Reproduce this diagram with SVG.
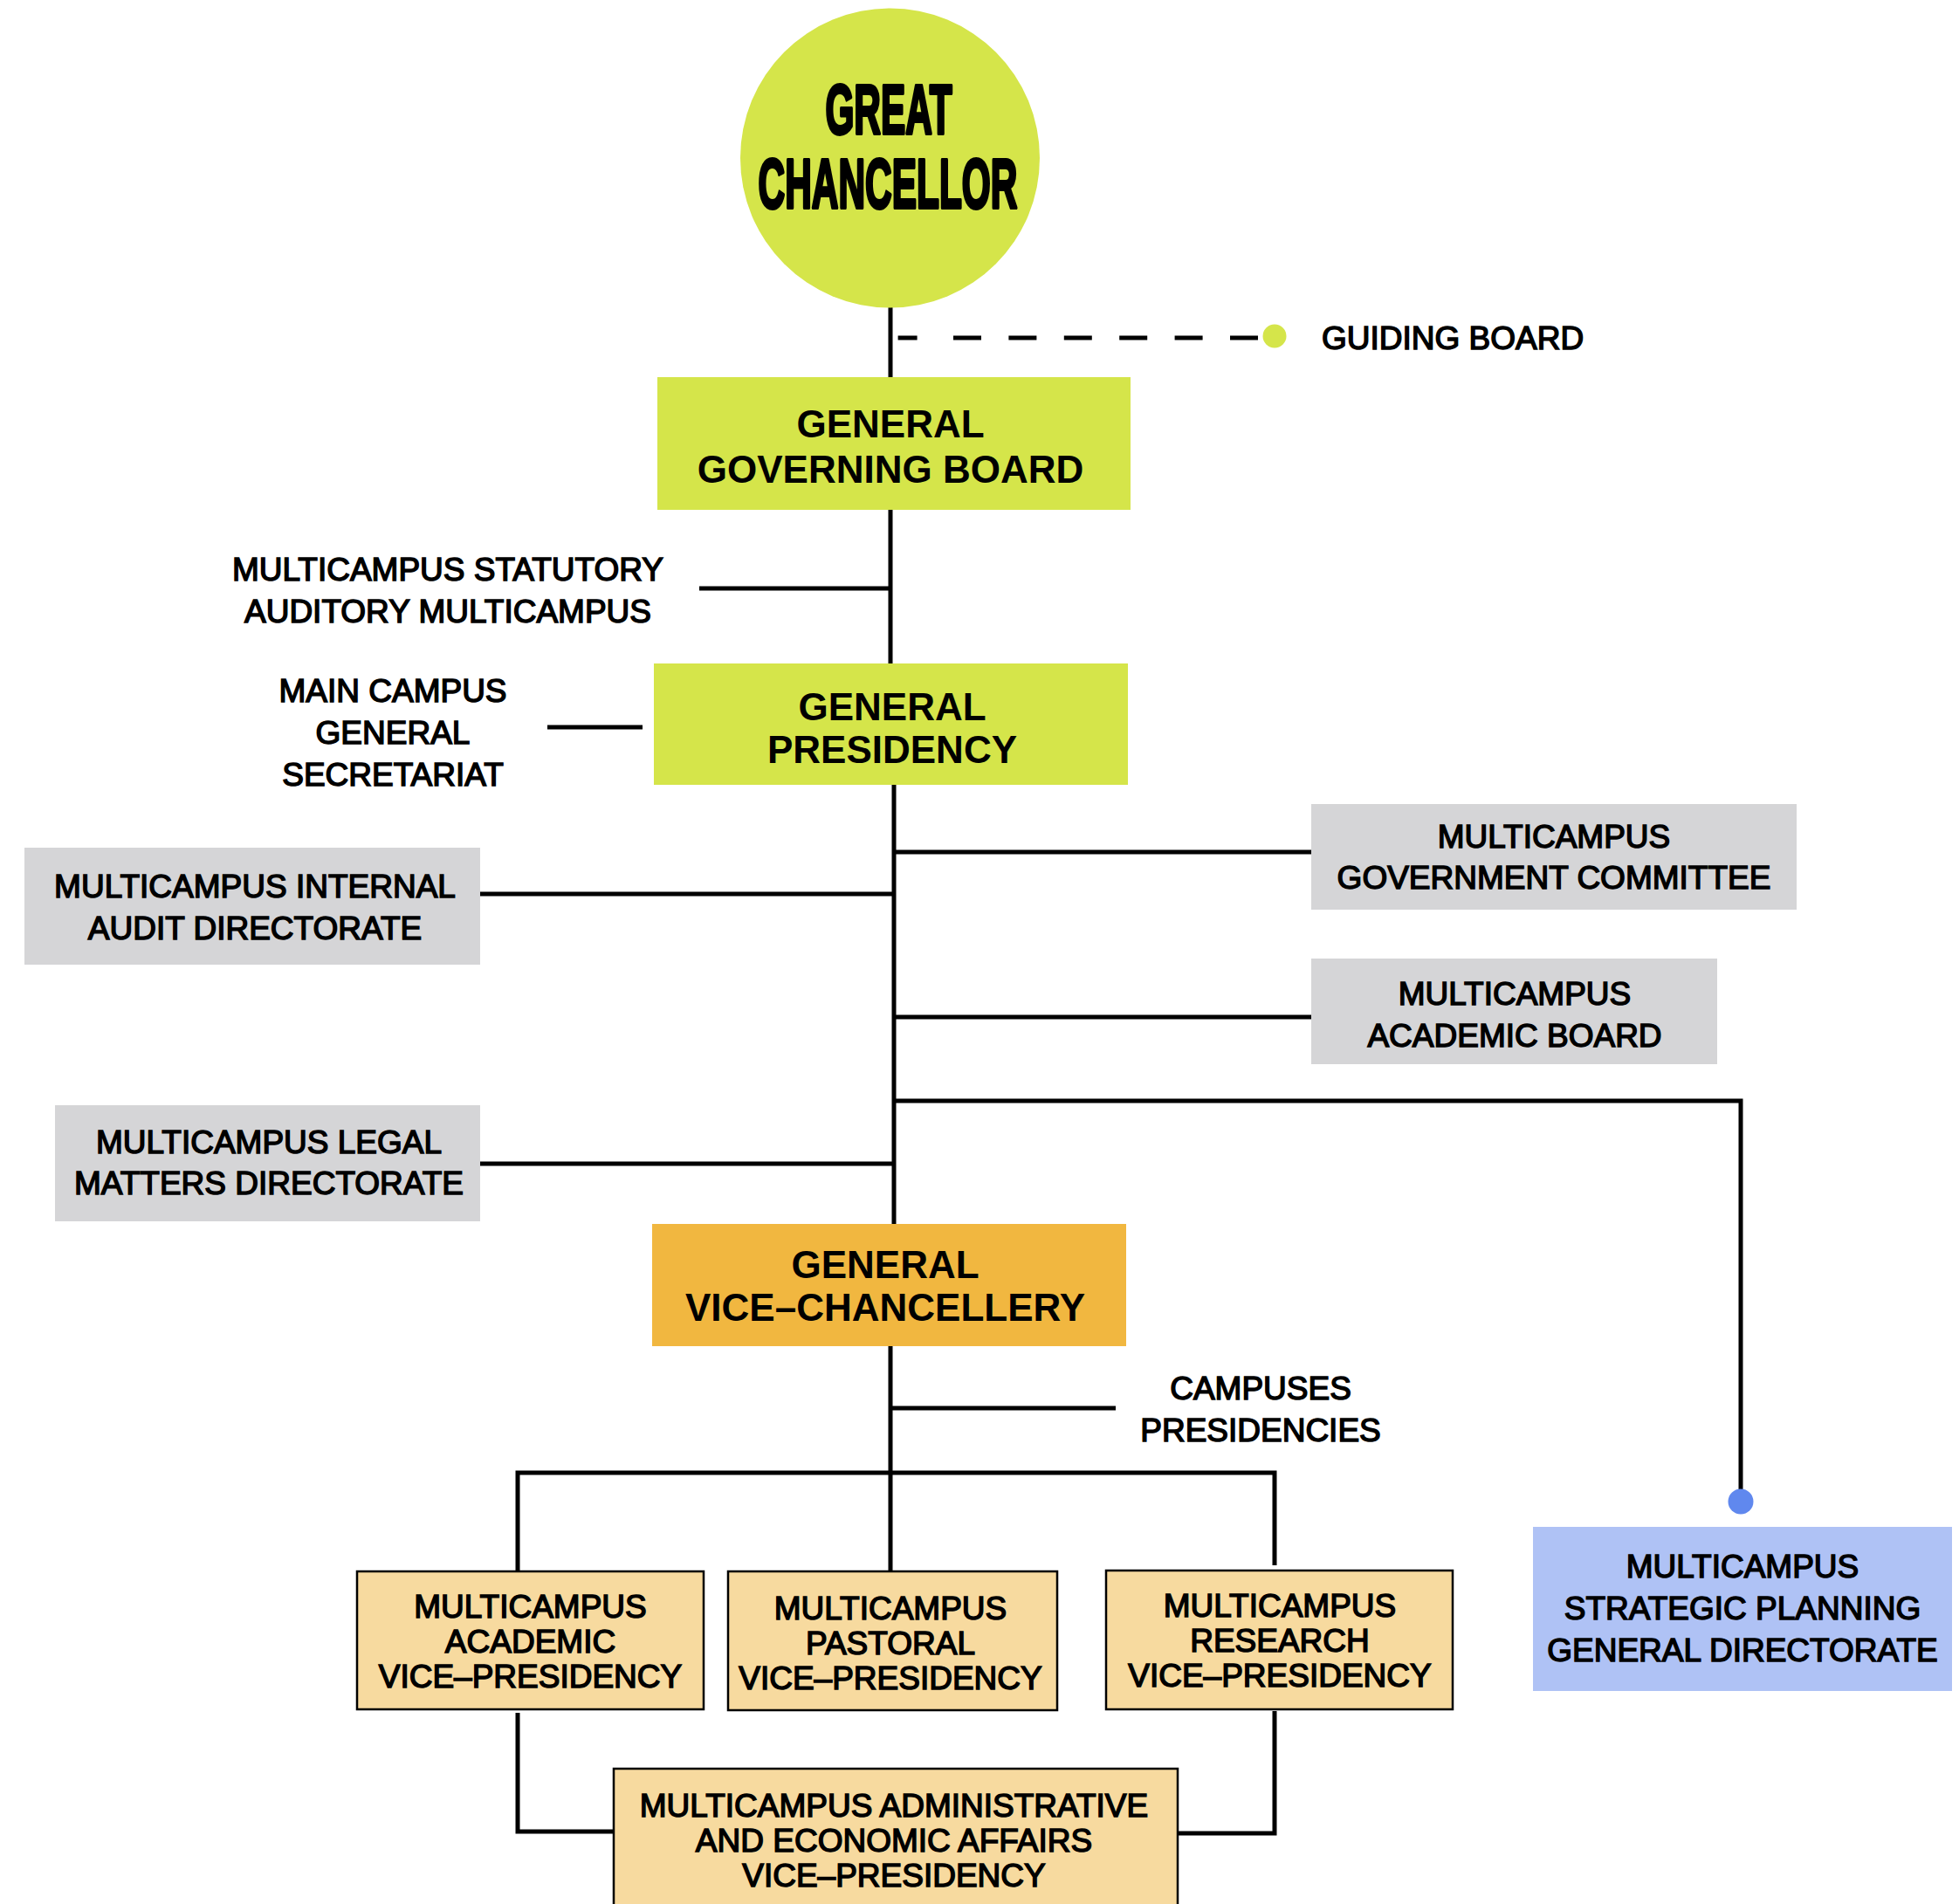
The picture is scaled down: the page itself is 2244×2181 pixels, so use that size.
<svg xmlns="http://www.w3.org/2000/svg" width="2244" height="2181" viewBox="0 0 2244 2181">
<style>
.t{font-family:"Liberation Sans",Arial,sans-serif;font-size:37px;fill:#000;stroke:#000;stroke-width:1.5px;text-anchor:middle}
.b{font-family:"Liberation Sans",Arial,sans-serif;font-size:44px;font-weight:bold;fill:#000;text-anchor:middle}
.gc{font-family:"Liberation Sans",Arial,sans-serif;font-size:80px;font-weight:bold;fill:#000;stroke:#000;stroke-width:4px;stroke-linejoin:round;text-anchor:middle}
.ln{fill:none;stroke:#000;stroke-width:5}
.lime{fill:#D5E54A}
.gray{fill:#D5D5D7}
.vp{fill:#F7DA9F;stroke:#000;stroke-width:2.5}
</style>
<g id="connectors">
<path class="ln" d="M1020 350V434M1020 582V762M1024 897V1404M1020 1540V1800"/>
<path class="ln" d="M801 674H1020M627 833H736M1024 976H1502M550 1024H1024M1024 1165H1502M1024 1261H1994V1708M550 1333H1024M1020 1613H1278"/>
<path class="ln" d="M593 1800V1687H1460V1793"/>
<path class="ln" d="M593 1962V2098H703M1460 1960V2100H1349"/>
<path class="ln" d="M1028.6 387H1441" stroke-dasharray="22 41.4 32 31.4 32 31.4 32 31.4 32 31.4 32 31.4 32 40"/>
<circle cx="1460" cy="385" r="13.5" fill="#D5E54A"/>
<circle cx="1994" cy="1720" r="14.5" fill="#6088EE"/>
</g>
<g id="great-chancellor">
<circle class="lime" cx="1019.5" cy="181" r="171.5"/>
<text class="gc" transform="translate(1018,153) scale(0.53,1)">GREAT</text>
<text class="gc" transform="translate(1017,238) scale(0.53,1)">CHANCELLOR</text>
</g>
<g id="guiding-board">
<text class="t" x="1514" y="400" style="text-anchor:start">GUIDING BOARD</text>
</g>
<g id="general-governing-board">
<rect class="lime" x="753" y="432" width="542" height="152"/>
<text class="b" x="1020" y="501">GENERAL</text>
<text class="b" x="1020" y="553">GOVERNING BOARD</text>
</g>
<g id="statutory-auditory">
<text class="t" x="513" y="665">MULTICAMPUS STATUTORY</text>
<text class="t" x="513" y="713">AUDITORY MULTICAMPUS</text>
</g>
<g id="general-presidency">
<rect class="lime" x="749" y="760" width="543" height="139"/>
<text class="b" x="1022" y="825">GENERAL</text>
<text class="b" x="1022" y="874">PRESIDENCY</text>
</g>
<g id="main-campus-secretariat">
<text class="t" x="450" y="804">MAIN CAMPUS</text>
<text class="t" x="450" y="852">GENERAL</text>
<text class="t" x="450" y="900">SECRETARIAT</text>
</g>
<g id="government-committee">
<rect class="gray" x="1502" y="921" width="556" height="121"/>
<text class="t" x="1780" y="971">MULTICAMPUS</text>
<text class="t" x="1780" y="1018">GOVERNMENT COMMITTEE</text>
</g>
<g id="internal-audit">
<rect class="gray" x="28" y="971" width="522" height="134"/>
<text class="t" x="292" y="1028">MULTICAMPUS INTERNAL</text>
<text class="t" x="292" y="1076">AUDIT DIRECTORATE</text>
</g>
<g id="academic-board">
<rect class="gray" x="1502" y="1098" width="465" height="121"/>
<text class="t" x="1735" y="1151">MULTICAMPUS</text>
<text class="t" x="1735" y="1199">ACADEMIC BOARD</text>
</g>
<g id="legal-matters">
<rect class="gray" x="63" y="1266" width="487" height="133"/>
<text class="t" x="308" y="1321">MULTICAMPUS LEGAL</text>
<text class="t" x="308" y="1368">MATTERS DIRECTORATE</text>
</g>
<g id="general-vice-chancellery">
<rect x="747" y="1402" width="543" height="140" fill="#F1B740"/>
<text class="b" x="1014" y="1464">GENERAL</text>
<text class="b" x="1014" y="1513">VICE–CHANCELLERY</text>
</g>
<g id="campuses-presidencies">
<text class="t" x="1444" y="1603">CAMPUSES</text>
<text class="t" x="1444" y="1651">PRESIDENCIES</text>
</g>
<g id="strategic-planning">
<rect x="1756" y="1749" width="480" height="188" fill="#AFC2F5"/>
<text class="t" x="1996" y="1807">MULTICAMPUS</text>
<text class="t" x="1996" y="1855">STRATEGIC PLANNING</text>
<text class="t" x="1996" y="1903">GENERAL DIRECTORATE</text>
</g>
<g id="academic-vp">
<rect class="vp" x="409" y="1800" width="397" height="158"/>
<text class="t" x="607.5" y="1853">MULTICAMPUS</text>
<text class="t" x="607.5" y="1893">ACADEMIC</text>
<text class="t" x="607.5" y="1933">VICE–PRESIDENCY</text>
</g>
<g id="pastoral-vp">
<rect class="vp" x="834" y="1800" width="377" height="159"/>
<text class="t" x="1020" y="1855">MULTICAMPUS</text>
<text class="t" x="1020" y="1895">PASTORAL</text>
<text class="t" x="1020" y="1935">VICE–PRESIDENCY</text>
</g>
<g id="research-vp">
<rect class="vp" x="1267" y="1799" width="397" height="159"/>
<text class="t" x="1466" y="1852">MULTICAMPUS</text>
<text class="t" x="1466" y="1892">RESEARCH</text>
<text class="t" x="1466" y="1932">VICE–PRESIDENCY</text>
</g>
<g id="administrative-vp">
<rect class="vp" x="703" y="2026" width="646" height="170"/>
<text class="t" x="1024" y="2081">MULTICAMPUS ADMINISTRATIVE</text>
<text class="t" x="1024" y="2121">AND ECONOMIC AFFAIRS</text>
<text class="t" x="1024" y="2161">VICE–PRESIDENCY</text>
</g>
</svg>
